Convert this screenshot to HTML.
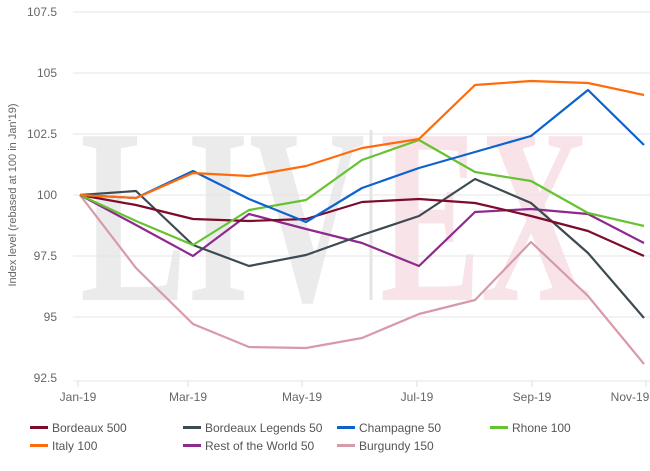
<!DOCTYPE html>
<html><head><meta charset="utf-8"><style>
body{margin:0;background:#fff}
svg{display:block;font-family:"Liberation Sans",sans-serif}
</style></head><body>
<svg width="650" height="471" viewBox="0 0 650 471">
<g font-family="Liberation Serif,serif" font-weight="bold" font-size="250">
<text x="80" y="300" fill="#ebebeb" textLength="285" lengthAdjust="spacingAndGlyphs">LIV</text>
<text x="380" y="300" fill="#f8e3e8" textLength="210" lengthAdjust="spacingAndGlyphs">EX</text>
</g>
<line x1="371" y1="130" x2="371" y2="300" stroke="#e4e4e4" stroke-width="3"/>
<g stroke="#e6e6e6" stroke-width="1">
<line x1="73" y1="12" x2="650" y2="12"/><line x1="73" y1="73" x2="650" y2="73"/>
<line x1="73" y1="134" x2="650" y2="134"/><line x1="73" y1="195" x2="650" y2="195"/>
<line x1="73" y1="256" x2="650" y2="256"/><line x1="73" y1="317" x2="650" y2="317"/>
<line x1="73" y1="381" x2="650" y2="381"/>
</g>
<g stroke="#ddd"><line x1="78" y1="381" x2="78" y2="387"/><line x1="188" y1="381" x2="188" y2="387"/><line x1="302" y1="381" x2="302" y2="387"/><line x1="417" y1="381" x2="417" y2="387"/><line x1="532" y1="381" x2="532" y2="387"/><line x1="646" y1="381" x2="646" y2="387"/></g>
<g fill="#666" font-size="12" text-anchor="end">
<text x="57" y="16">107.5</text><text x="57" y="77">105</text><text x="57" y="138">102.5</text><text x="57" y="199">100</text><text x="57" y="260">97.5</text><text x="57" y="321">95</text><text x="57" y="382">92.5</text>
</g>
<g fill="#666" font-size="12" text-anchor="middle">
<text x="78" y="401">Jan-19</text><text x="188" y="401">Mar-19</text><text x="302" y="401">May-19</text><text x="417" y="401">Jul-19</text><text x="532" y="401">Sep-19</text><text x="630" y="401">Nov-19</text>
</g>
<text transform="translate(16,195) rotate(-90)" text-anchor="middle" font-size="11" fill="#666">Index level (rebased at 100 in Jan'19)</text>
<g fill="none" stroke-width="2.2" stroke-linejoin="round">
<polyline stroke="#d89aa8" points="80,195 136,268 193,324 249,347 306,348 362,338 419,314 475,300 531,242 588,296 644,364"/>
<polyline stroke="#8e2a8e" points="80,195 136,225 193,256 249,214 306,229 362,243 419,266 475,212 531,209 588,214 644,243"/>
<polyline stroke="#3d4a52" points="80,195 136,191 193,245 249,266 306,255 362,235 419,216 475,179 531,203 588,253 644,318"/>
<polyline stroke="#7b0c2a" points="80,195 136,205 193,219 249,221 306,219 362,202 419,199 475,203 531,216 588,231 644,256"/>
<polyline stroke="#66c32f" points="80,195 136,221 193,245 249,210 306,200 362,160 419,140 475,172 531,181 588,213 644,226"/>
<polyline stroke="#0b62d0" points="80,195 136,198 193,171 249,199 306,222 362,188 419,168 475,152 531,136 588,90 644,145"/>
<polyline stroke="#ff6b0a" points="80,195 136,198 193,173 249,176 306,166 362,148 419,139 475,85 531,81 588,83 644,95"/>
</g>
<g font-size="12" fill="#555">
<rect x="30" y="426" width="18" height="3" fill="#7b0c2a"/><text x="52" y="432">Bordeaux 500</text>
<rect x="183" y="426" width="18" height="3" fill="#3d4a52"/><text x="205" y="432">Bordeaux Legends 50</text>
<rect x="337" y="426" width="18" height="3" fill="#0b62d0"/><text x="359" y="432">Champagne 50</text>
<rect x="490" y="426" width="18" height="3" fill="#66c32f"/><text x="512" y="432">Rhone 100</text>
<rect x="30" y="444" width="18" height="3" fill="#ff6b0a"/><text x="52" y="450">Italy 100</text>
<rect x="183" y="444" width="18" height="3" fill="#8e2a8e"/><text x="205" y="450">Rest of the World 50</text>
<rect x="337" y="444" width="18" height="3" fill="#d89aa8"/><text x="359" y="450">Burgundy 150</text>
</g>
</svg>
</body></html>
